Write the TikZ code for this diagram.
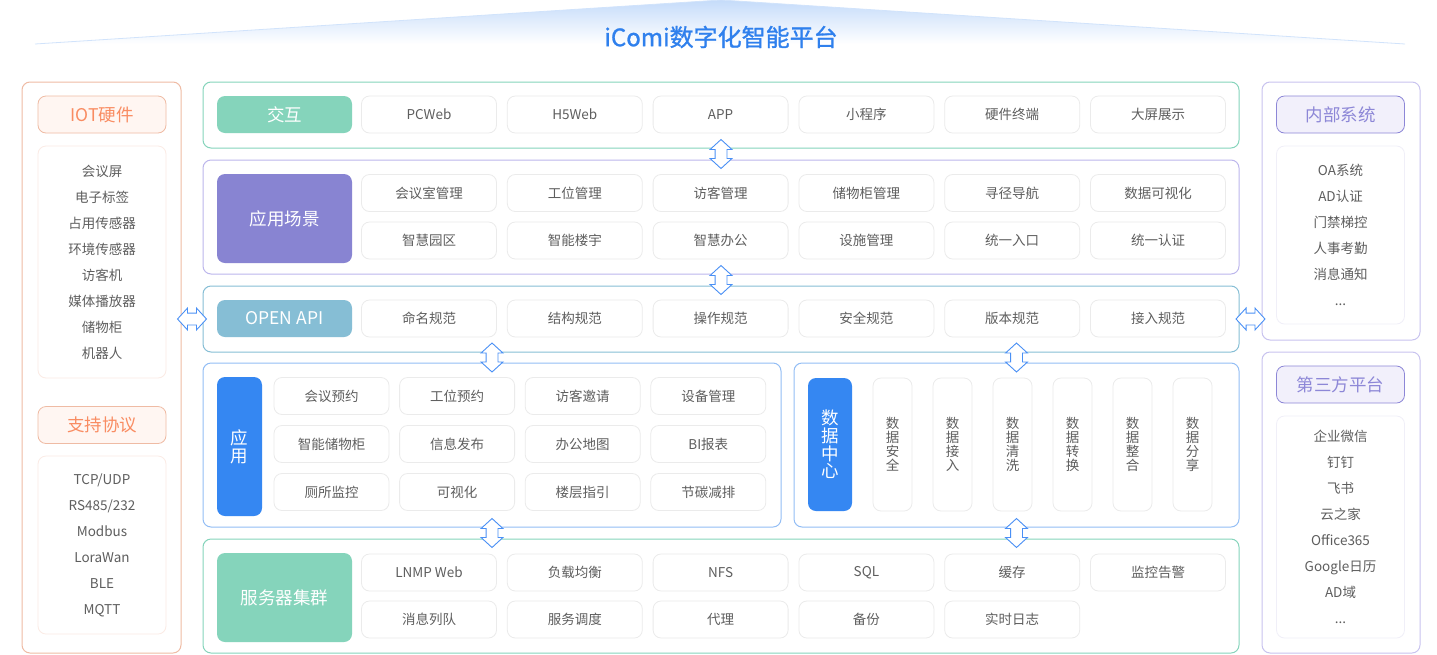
\documentclass[tikz,border=0pt]{standalone}
\usepackage{fontspec}
\setmainfont{Noto Sans CJK SC}
\newfontfamily\titlefont{Noto Sans CJK SC}[FakeBold=1.2]
\definecolor{icgreen}{HTML}{85D4BB}
\definecolor{icpurple}{HTML}{8884D2}
\definecolor{iclilac}{HTML}{BCB6EC}
\definecolor{icteal}{HTML}{86BED5}
\definecolor{icblue}{HTML}{3587F2}
\definecolor{icsky}{HTML}{92BDF5}
\definecolor{icorange}{HTML}{F98C62}
\definecolor{icpeach}{HTML}{EFBBA4}
\definecolor{icpeachbg}{HTML}{FFF6F2}
\definecolor{icpeachline}{HTML}{FBEBE5}
\definecolor{icviolet}{HTML}{8D87D7}
\definecolor{icvioletbg}{HTML}{F2F0FB}
\definecolor{icvioletline}{HTML}{F0EFF8}
\definecolor{icframe}{HTML}{C8C3EF}
\definecolor{icgrey}{HTML}{5E5E5E}
\definecolor{icline}{HTML}{EBEBEB}
\definecolor{ictitle}{HTML}{2F80ED}
\definecolor{icarrow}{HTML}{4A90F5}
\usetikzlibrary{arrows.meta, positioning, shapes.arrows, calc}

\begin{document}
\begin{tikzpicture}[x=1pt, y=-1pt,
    every node/.style={font=\fontsize{13.5}{16}\selectfont, align=center, inner sep=0pt},
    panel/.style={draw, rounded corners=8pt, line width=1pt, fill=white},
    tag/.style={rounded corners=8pt, text=white, minimum width=135pt,
                font=\fontsize{17.5}{17.7}\selectfont},
    item/.style={draw=icline, line width=0.8pt, rounded corners=8pt, fill=white,
                 text=icgrey, minimum width=135pt, minimum height=37pt},
    head/.style={draw, line width=0.8pt, rounded corners=8pt, minimum width=128pt,
                 minimum height=37pt, font=\fontsize{17.5}{20}\selectfont},
    list/.style={draw, line width=0.8pt, rounded corners=8pt, fill=white, text=icgrey,
                 minimum width=128pt, font=\fontsize{13.5}{26}\selectfont},
    biarrow/.style={double arrow, draw=icarrow, fill=white, line width=0.9pt,
                    minimum height=29pt, double arrow head extend=5pt,
                    double arrow tip angle=95}
  ]
    \useasboundingbox (0,0) rectangle (1437,654);

    % title
    \shade[top color=ictitle!28, bottom color=white]
      (721,0) -- (1405,44) -- (35,44) -- cycle;
    \draw[ictitle!22, line width=0.8pt] (35,44) -- (721,0) -- (1405,44);
    \node[font=\titlefont\fontsize{24}{26}\selectfont, text=ictitle] (title) at (721,37) {iComi数字化智能平台};

    % side panels
    \node[panel, draw=icpeach, minimum width=159pt, minimum height=571pt] (iot) at (101.5,367.5) {};
    \node[head, draw=icpeach, fill=icpeachbg, text=icorange] (iothead) at (102,114.5) {IOT硬件};
    \node[list, draw=icpeachline, minimum height=232pt] (iotlist) at (102,262)
      {会议屏\\电子标签\\占用传感器\\环境传感器\\访客机\\媒体播放器\\储物柜\\机器人};
    \node[head, draw=icpeach, fill=icpeachbg, text=icorange] (prothead) at (102,425) {支持协议};
    \node[list, draw=icpeachline, minimum height=178pt] (protlist) at (102,545)
      {TCP/UDP\\RS485/232\\Modbus\\LoraWan\\BLE\\MQTT};

    \node[panel, draw=icframe, minimum width=158pt, minimum height=258pt] (inner) at (1341,211) {};
    \node[head, draw=icviolet, fill=icvioletbg, text=icviolet] (innerhead) at (1340.5,114.5) {内部系统};
    \node[list, draw=icvioletline, minimum height=178pt] (innerlist) at (1340.5,235)
      {OA系统\\AD认证\\门禁梯控\\人事考勤\\消息通知\\...};
    \node[panel, draw=icframe, minimum width=158pt, minimum height=301pt] (third) at (1341,502.5) {};
    \node[head, draw=icviolet, fill=icvioletbg, text=icviolet] (thirdhead) at (1340.5,384.5) {第三方平台};
    \node[list, draw=icvioletline, minimum height=222pt] (thirdlist) at (1340.5,527)
      {企业微信\\钉钉\\飞书\\云之家\\Office365\\Google日历\\AD域\\...};

    % layers
    \node[panel, draw=icgreen, minimum width=1036pt, minimum height=66pt] (inter) at (721,115) {};
    \node[panel, draw=iclilac, minimum width=1036pt, minimum height=114pt] (scene) at (721,217) {};
    \node[panel, draw=icteal, minimum width=1036pt, minimum height=66pt] (api) at (721,319) {};
    \node[panel, draw=icsky, minimum width=578pt, minimum height=164pt] (apps) at (492,445) {};
    \node[panel, draw=icsky, minimum width=445pt, minimum height=164pt] (data) at (1016.5,445) {};
    \node[panel, draw=icgreen, minimum width=1036pt, minimum height=114pt] (servers) at (721,596) {};

    \node[tag, fill=icgreen, minimum height=37pt] (intertag) at (284.5,114.5) {交互};
    \node[tag, fill=icpurple, minimum height=89pt] (scenetag) at (284.5,218.5) {应用场景};
    \node[tag, fill=icteal, minimum height=37pt] (apitag) at (284.5,318.5) {OPEN API};
    \node[tag, fill=icblue, minimum width=45pt, minimum height=139pt] (appstag) at (239.5,446.5) {应\\用};
    \node[tag, fill=icblue, minimum width=44pt, minimum height=133pt] (datatag) at (830,444.5) {数\\据\\中\\心};
    \node[tag, fill=icgreen, minimum height=89pt] (servertag) at (284.5,597.5) {服务器集群};

    \foreach \t [count=\i] in {PCWeb,H5Web,APP,小程序,硬件终端,大屏展示}
      \node[item] (int\i) at ({429+145.8*(\i-1)},114.5) {\t};
    \foreach \t [count=\i] in {会议室管理,工位管理,访客管理,储物柜管理,寻径导航,数据可视化}
      \node[item] (sca\i) at ({429+145.8*(\i-1)},193) {\t};
    \foreach \t [count=\i] in {智慧园区,智能楼宇,智慧办公,设施管理,统一入口,统一认证}
      \node[item] (scb\i) at ({429+145.8*(\i-1)},240.5) {\t};
    \foreach \t [count=\i] in {命名规范,结构规范,操作规范,安全规范,版本规范,接入规范}
      \node[item] (api\i) at ({429+145.8*(\i-1)},318.5) {\t};
    \foreach \t [count=\i] in {会议预约,工位预约,访客邀请,设备管理}
      \node[item, minimum width=115pt] (apa\i) at ({331.5+125.6*(\i-1)},396) {\t};
    \foreach \t [count=\i] in {智能储物柜,信息发布,办公地图,BI报表}
      \node[item, minimum width=115pt] (apb\i) at ({331.5+125.6*(\i-1)},444) {\t};
    \foreach \t [count=\i] in {厕所监控,可视化,楼层指引,节碳减排}
      \node[item, minimum width=115pt] (apc\i) at ({331.5+125.6*(\i-1)},492) {\t};
    \foreach \t [count=\i] in {数\\据\\安\\全,数\\据\\接\\入,数\\据\\清\\洗,数\\据\\转\\换,数\\据\\整\\合,数\\据\\分\\享}
      \node[item, minimum width=39pt, minimum height=133pt,
            font=\fontsize{13.5}{14}\selectfont] (dat\i) at ({892.5+60*(\i-1)},444.5) {\t};
    \foreach \t [count=\i] in {LNMP Web,负载均衡,NFS,SQL,缓存,监控告警}
      \node[item] (sva\i) at ({429+145.8*(\i-1)},572.5) {\t};
    \foreach \t [count=\i] in {消息列队,服务调度,代理,备份,实时日志}
      \node[item] (svb\i) at ({429+145.8*(\i-1)},619.5) {\t};

    % connectors
    \path (inter.south) -- node[biarrow, sloped] {\rule{0pt}{11pt}} (scene.north);
    \path (scene.south) -- node[biarrow, sloped] {\rule{0pt}{11pt}} (api.north);
    \path (api.south -| apps.north) -- node[biarrow, sloped] {\rule{0pt}{11pt}} (apps.north);
    \path (api.south -| data.north) -- node[biarrow, sloped] {\rule{0pt}{11pt}} (data.north);
    \path (apps.south) -- node[biarrow, sloped] {\rule{0pt}{11pt}} (servers.north -| apps.south);
    \path (data.south) -- node[biarrow, sloped] {\rule{0pt}{11pt}} (servers.north -| data.south);
    \path (iot.east |- api.west) -- node[biarrow, sloped] {\rule{0pt}{11pt}} (api.west);
    \path (api.east) -- node[biarrow, sloped] {\rule{0pt}{11pt}} (inner.west |- api.east);
  \end{tikzpicture}
\end{document}
